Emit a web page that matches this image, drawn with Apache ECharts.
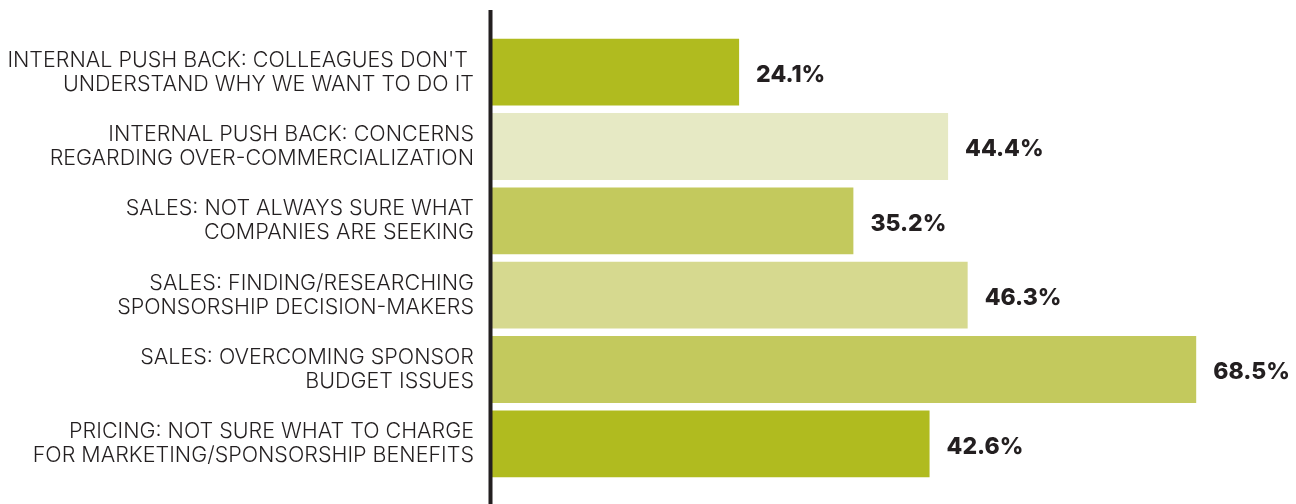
<!DOCTYPE html>
<html>
<head>
<meta charset="utf-8">
<script src="https://cdn.jsdelivr.net/npm/echarts@6/dist/echarts.min.js"></script>
<style>
  html, body { margin: 0; padding: 0; background: #ffffff; }
  #chart { width: 1296px; height: 504px; }
</style>
</head>
<body>
<div id="chart"></div>
<script>
// Survey challenges, listed top to bottom
const categories = [
  "INTERNAL PUSH BACK: COLLEAGUES DON'T \nUNDERSTAND WHY WE WANT TO DO IT",
  "INTERNAL PUSH BACK: CONCERNS\nREGARDING OVER-COMMERCIALIZATION",
  "SALES: NOT ALWAYS SURE WHAT\nCOMPANIES ARE SEEKING",
  "SALES: FINDING/RESEARCHING\nSPONSORSHIP DECISION-MAKERS",
  "SALES: OVERCOMING SPONSOR\nBUDGET ISSUES",
  "PRICING: NOT SURE WHAT TO CHARGE\nFOR MARKETING/SPONSORSHIP BENEFITS"
];
const values = [24.1, 44.4, 35.2, 46.3, 68.5, 42.6];
const barColors = ["#b0bb1f", "#e6e9c4", "#c3c95d", "#d6d98f", "#c3c95d", "#b0bb1f"];

const chart = echarts.init(document.getElementById('chart'));

const option = {
  animation: false,
  backgroundColor: '#ffffff',
  grid: { left: 491, right: 2, top: 35, bottom: 23, containLabel: false },
  xAxis: {
    type: 'value',
    min: 0,
    max: 78,
    show: false
  },
  yAxis: {
    type: 'category',
    inverse: true,
    data: categories,
    axisLine: { show: false },
    axisTick: { show: false },
    axisLabel: {
      margin: 17,
      color: '#231f20',
      fontFamily: 'Inter',
      fontWeight: 300,
      fontSize: 21.5,
      lineHeight: 24,
      align: 'right',
      padding: [0, 0, 10, 0]
    }
  },
  series: [{
    type: 'bar',
    barCategoryGap: '10%',
    data: values.map((v, i) => ({ value: v, itemStyle: { color: barColors[i] } })),
    label: {
      show: true,
      position: 'right',
      distance: 17,
      offset: [0, 3],
      formatter: p => p.value.toFixed(1) + '%',
      color: '#231f20',
      fontFamily: 'Inter',
      fontWeight: 800,
      fontSize: 23
    }
  }]
};

chart.setOption(option);

// Vertical baseline at zero, running past the plot area top and bottom
const x0 = chart.convertToPixel({ gridIndex: 0 }, [0, 0])[0];
chart.setOption({
  graphic: [{
    type: 'line',
    shape: { x1: x0 - 0.5, y1: 10, x2: x0 - 0.5, y2: 504 },
    style: { stroke: '#231f20', lineWidth: 4 },
    z: 10
  }]
});
</script>
</body>
</html>
